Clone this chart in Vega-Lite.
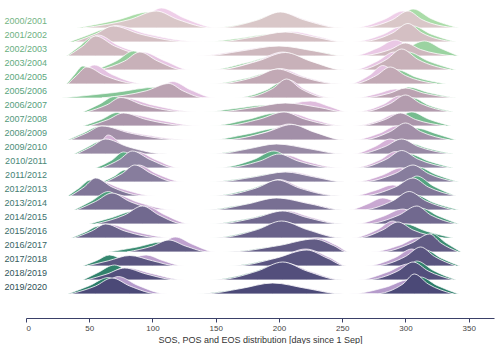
{
"$schema": "https://vega.github.io/schema/vega-lite/v6.json",
"padding": {"left": 4, "top": 6, "right": 4, "bottom": 0},
"data": {"values": [
{"y":2000,"k":"m","x":45,"d":0},{"y":2000,"k":"m","x":82,"d":8.5},{"y":2000,"k":"m","x":103,"d":17},{"y":2000,"k":"m","x":120,"d":8.5},{"y":2000,"k":"m","x":148,"d":0},
{"y":2000,"k":"m","x":150,"d":0},{"y":2000,"k":"m","x":183,"d":8},{"y":2000,"k":"m","x":201,"d":16},{"y":2000,"k":"m","x":220,"d":8},{"y":2000,"k":"m","x":250,"d":0},
{"y":2000,"k":"m","x":262,"d":0},{"y":2000,"k":"m","x":290,"d":8.5},{"y":2000,"k":"m","x":302,"d":17},{"y":2000,"k":"m","x":313,"d":8.5},{"y":2000,"k":"m","x":340,"d":0},
{"y":2000,"k":"g","x":40,"d":0},{"y":2000,"k":"g","x":72,"d":8},{"y":2000,"k":"g","x":97,"d":16},{"y":2000,"k":"g","x":113,"d":8},{"y":2000,"k":"g","x":140,"d":0},
{"y":2000,"k":"g","x":145,"d":0},{"y":2000,"k":"g","x":180,"d":7},{"y":2000,"k":"g","x":198,"d":14},{"y":2000,"k":"g","x":216,"d":7},{"y":2000,"k":"g","x":245,"d":0},
{"y":2000,"k":"g","x":268,"d":0},{"y":2000,"k":"g","x":295,"d":9.5},{"y":2000,"k":"g","x":306,"d":19},{"y":2000,"k":"g","x":320,"d":9.5},{"y":2000,"k":"g","x":342,"d":0},
{"y":2000,"k":"p","x":55,"d":0},{"y":2000,"k":"p","x":92,"d":10},{"y":2000,"k":"p","x":107,"d":20},{"y":2000,"k":"p","x":125,"d":10},{"y":2000,"k":"p","x":152,"d":0},
{"y":2000,"k":"p","x":155,"d":0},{"y":2000,"k":"p","x":186,"d":7.5},{"y":2000,"k":"p","x":203,"d":15},{"y":2000,"k":"p","x":223,"d":7.5},{"y":2000,"k":"p","x":252,"d":0},
{"y":2000,"k":"p","x":258,"d":0},{"y":2000,"k":"p","x":283,"d":8.5},{"y":2000,"k":"p","x":298,"d":17},{"y":2000,"k":"p","x":308,"d":8.5},{"y":2000,"k":"p","x":332,"d":0},

{"y":2001,"k":"m","x":38,"d":0},{"y":2001,"k":"m","x":55,"d":8},{"y":2001,"k":"m","x":69,"d":16},{"y":2001,"k":"m","x":90,"d":8},{"y":2001,"k":"m","x":130,"d":0},
{"y":2001,"k":"m","x":150,"d":0},{"y":2001,"k":"m","x":180,"d":5},{"y":2001,"k":"m","x":205,"d":10},{"y":2001,"k":"m","x":228,"d":5},{"y":2001,"k":"m","x":252,"d":0},
{"y":2001,"k":"m","x":262,"d":0},{"y":2001,"k":"m","x":290,"d":9.2},{"y":2001,"k":"m","x":302,"d":18.5},{"y":2001,"k":"m","x":313,"d":9.2},{"y":2001,"k":"m","x":338,"d":0},
{"y":2001,"k":"g","x":34,"d":0},{"y":2001,"k":"g","x":48,"d":6.5},{"y":2001,"k":"g","x":64,"d":13},{"y":2001,"k":"g","x":80,"d":6.5},{"y":2001,"k":"g","x":110,"d":0},
{"y":2001,"k":"g","x":140,"d":0},{"y":2001,"k":"g","x":170,"d":4},{"y":2001,"k":"g","x":195,"d":8},{"y":2001,"k":"g","x":215,"d":4},{"y":2001,"k":"g","x":245,"d":0},
{"y":2001,"k":"g","x":270,"d":0},{"y":2001,"k":"g","x":297,"d":8},{"y":2001,"k":"g","x":306,"d":16},{"y":2001,"k":"g","x":320,"d":8},{"y":2001,"k":"g","x":340,"d":0},
{"y":2001,"k":"p","x":45,"d":0},{"y":2001,"k":"p","x":60,"d":8.2},{"y":2001,"k":"p","x":71,"d":16.5},{"y":2001,"k":"p","x":95,"d":8.2},{"y":2001,"k":"p","x":140,"d":0},
{"y":2001,"k":"p","x":160,"d":0},{"y":2001,"k":"p","x":190,"d":5.2},{"y":2001,"k":"p","x":210,"d":10.5},{"y":2001,"k":"p","x":232,"d":5.2},{"y":2001,"k":"p","x":252,"d":0},
{"y":2001,"k":"p","x":258,"d":0},{"y":2001,"k":"p","x":282,"d":7.5},{"y":2001,"k":"p","x":296,"d":15},{"y":2001,"k":"p","x":306,"d":7.5},{"y":2001,"k":"p","x":328,"d":0},

{"y":2002,"k":"m","x":33,"d":0},{"y":2002,"k":"m","x":45,"d":10},{"y":2002,"k":"m","x":55,"d":20},{"y":2002,"k":"m","x":70,"d":10},{"y":2002,"k":"m","x":100,"d":0},
{"y":2002,"k":"m","x":140,"d":0},{"y":2002,"k":"m","x":170,"d":5},{"y":2002,"k":"m","x":200,"d":10},{"y":2002,"k":"m","x":228,"d":5},{"y":2002,"k":"m","x":252,"d":0},
{"y":2002,"k":"m","x":262,"d":0},{"y":2002,"k":"m","x":288,"d":6.5},{"y":2002,"k":"m","x":300,"d":13},{"y":2002,"k":"m","x":312,"d":6.5},{"y":2002,"k":"m","x":338,"d":0},
{"y":2002,"k":"g","x":32,"d":0},{"y":2002,"k":"g","x":42,"d":9.5},{"y":2002,"k":"g","x":53,"d":19},{"y":2002,"k":"g","x":66,"d":9.5},{"y":2002,"k":"g","x":92,"d":0},
{"y":2002,"k":"g","x":150,"d":0},{"y":2002,"k":"g","x":185,"d":3.5},{"y":2002,"k":"g","x":210,"d":7},{"y":2002,"k":"g","x":235,"d":3.5},{"y":2002,"k":"g","x":252,"d":0},
{"y":2002,"k":"g","x":270,"d":0},{"y":2002,"k":"g","x":300,"d":7.5},{"y":2002,"k":"g","x":315,"d":15},{"y":2002,"k":"g","x":328,"d":7.5},{"y":2002,"k":"g","x":342,"d":0},
{"y":2002,"k":"p","x":35,"d":0},{"y":2002,"k":"p","x":47,"d":10.5},{"y":2002,"k":"p","x":57,"d":21},{"y":2002,"k":"p","x":73,"d":10.5},{"y":2002,"k":"p","x":110,"d":0},
{"y":2002,"k":"p","x":135,"d":0},{"y":2002,"k":"p","x":165,"d":4.8},{"y":2002,"k":"p","x":195,"d":9.5},{"y":2002,"k":"p","x":222,"d":4.8},{"y":2002,"k":"p","x":250,"d":0},
{"y":2002,"k":"p","x":258,"d":0},{"y":2002,"k":"p","x":278,"d":8},{"y":2002,"k":"p","x":292,"d":16},{"y":2002,"k":"p","x":305,"d":8},{"y":2002,"k":"p","x":330,"d":0},

{"y":2003,"k":"m","x":58,"d":0},{"y":2003,"k":"m","x":78,"d":9},{"y":2003,"k":"m","x":90,"d":18},{"y":2003,"k":"m","x":104,"d":9},{"y":2003,"k":"m","x":125,"d":0},
{"y":2003,"k":"m","x":150,"d":0},{"y":2003,"k":"m","x":183,"d":8.8},{"y":2003,"k":"m","x":205,"d":17.5},{"y":2003,"k":"m","x":225,"d":8.8},{"y":2003,"k":"m","x":252,"d":0},
{"y":2003,"k":"m","x":262,"d":0},{"y":2003,"k":"m","x":285,"d":10.5},{"y":2003,"k":"m","x":297,"d":21},{"y":2003,"k":"m","x":310,"d":10.5},{"y":2003,"k":"m","x":336,"d":0},
{"y":2003,"k":"g","x":55,"d":0},{"y":2003,"k":"g","x":72,"d":9.5},{"y":2003,"k":"g","x":85,"d":19},{"y":2003,"k":"g","x":98,"d":9.5},{"y":2003,"k":"g","x":118,"d":0},
{"y":2003,"k":"g","x":145,"d":0},{"y":2003,"k":"g","x":175,"d":7.5},{"y":2003,"k":"g","x":200,"d":15},{"y":2003,"k":"g","x":220,"d":7.5},{"y":2003,"k":"g","x":248,"d":0},
{"y":2003,"k":"g","x":268,"d":0},{"y":2003,"k":"g","x":292,"d":9},{"y":2003,"k":"g","x":302,"d":18},{"y":2003,"k":"g","x":318,"d":9},{"y":2003,"k":"g","x":340,"d":0},
{"y":2003,"k":"p","x":60,"d":0},{"y":2003,"k":"p","x":80,"d":9},{"y":2003,"k":"p","x":92,"d":18},{"y":2003,"k":"p","x":110,"d":9},{"y":2003,"k":"p","x":130,"d":0},
{"y":2003,"k":"p","x":150,"d":0},{"y":2003,"k":"p","x":182,"d":9},{"y":2003,"k":"p","x":203,"d":18},{"y":2003,"k":"p","x":222,"d":9},{"y":2003,"k":"p","x":250,"d":0},
{"y":2003,"k":"p","x":258,"d":0},{"y":2003,"k":"p","x":278,"d":9},{"y":2003,"k":"p","x":291,"d":18},{"y":2003,"k":"p","x":303,"d":9},{"y":2003,"k":"p","x":326,"d":0},

{"y":2004,"k":"m","x":33,"d":0},{"y":2004,"k":"m","x":40,"d":8.5},{"y":2004,"k":"m","x":48,"d":17},{"y":2004,"k":"m","x":62,"d":8.5},{"y":2004,"k":"m","x":90,"d":0},
{"y":2004,"k":"m","x":150,"d":0},{"y":2004,"k":"m","x":182,"d":7.5},{"y":2004,"k":"m","x":199,"d":15},{"y":2004,"k":"m","x":217,"d":7.5},{"y":2004,"k":"m","x":248,"d":0},
{"y":2004,"k":"m","x":258,"d":0},{"y":2004,"k":"m","x":277,"d":8.5},{"y":2004,"k":"m","x":288,"d":17},{"y":2004,"k":"m","x":300,"d":8.5},{"y":2004,"k":"m","x":325,"d":0},
{"y":2004,"k":"g","x":32,"d":0},{"y":2004,"k":"g","x":38,"d":9},{"y":2004,"k":"g","x":45,"d":18},{"y":2004,"k":"g","x":57,"d":9},{"y":2004,"k":"g","x":82,"d":0},
{"y":2004,"k":"g","x":145,"d":0},{"y":2004,"k":"g","x":175,"d":6},{"y":2004,"k":"g","x":195,"d":12},{"y":2004,"k":"g","x":212,"d":6},{"y":2004,"k":"g","x":240,"d":0},
{"y":2004,"k":"g","x":265,"d":0},{"y":2004,"k":"g","x":285,"d":7},{"y":2004,"k":"g","x":294,"d":14},{"y":2004,"k":"g","x":308,"d":7},{"y":2004,"k":"g","x":332,"d":0},
{"y":2004,"k":"p","x":34,"d":0},{"y":2004,"k":"p","x":43,"d":9.5},{"y":2004,"k":"p","x":54,"d":19},{"y":2004,"k":"p","x":68,"d":9.5},{"y":2004,"k":"p","x":95,"d":0},
{"y":2004,"k":"p","x":152,"d":0},{"y":2004,"k":"p","x":184,"d":7.8},{"y":2004,"k":"p","x":201,"d":15.5},{"y":2004,"k":"p","x":219,"d":7.8},{"y":2004,"k":"p","x":250,"d":0},
{"y":2004,"k":"p","x":255,"d":0},{"y":2004,"k":"p","x":272,"d":9.2},{"y":2004,"k":"p","x":282,"d":18.5},{"y":2004,"k":"p","x":294,"d":9.2},{"y":2004,"k":"p","x":318,"d":0},

{"y":2005,"k":"m","x":60,"d":0},{"y":2005,"k":"m","x":95,"d":7.2},{"y":2005,"k":"m","x":113,"d":14.5},{"y":2005,"k":"m","x":124,"d":7.2},{"y":2005,"k":"m","x":142,"d":0},
{"y":2005,"k":"m","x":170,"d":0},{"y":2005,"k":"m","x":195,"d":9.5},{"y":2005,"k":"m","x":206,"d":19},{"y":2005,"k":"m","x":217,"d":9.5},{"y":2005,"k":"m","x":240,"d":0},
{"y":2005,"k":"m","x":265,"d":0},{"y":2005,"k":"m","x":288,"d":5},{"y":2005,"k":"m","x":300,"d":10},{"y":2005,"k":"m","x":314,"d":5},{"y":2005,"k":"m","x":338,"d":0},
{"y":2005,"k":"g","x":28,"d":0},{"y":2005,"k":"g","x":70,"d":5.5},{"y":2005,"k":"g","x":105,"d":11},{"y":2005,"k":"g","x":118,"d":5.5},{"y":2005,"k":"g","x":135,"d":0},
{"y":2005,"k":"g","x":165,"d":0},{"y":2005,"k":"g","x":190,"d":8},{"y":2005,"k":"g","x":203,"d":16},{"y":2005,"k":"g","x":214,"d":8},{"y":2005,"k":"g","x":235,"d":0},
{"y":2005,"k":"g","x":272,"d":0},{"y":2005,"k":"g","x":295,"d":5.5},{"y":2005,"k":"g","x":302,"d":11},{"y":2005,"k":"g","x":318,"d":5.5},{"y":2005,"k":"g","x":340,"d":0},
{"y":2005,"k":"p","x":70,"d":0},{"y":2005,"k":"p","x":103,"d":8.2},{"y":2005,"k":"p","x":116,"d":16.5},{"y":2005,"k":"p","x":130,"d":8.2},{"y":2005,"k":"p","x":150,"d":0},
{"y":2005,"k":"p","x":172,"d":0},{"y":2005,"k":"p","x":197,"d":9},{"y":2005,"k":"p","x":208,"d":18},{"y":2005,"k":"p","x":220,"d":9},{"y":2005,"k":"p","x":244,"d":0},
{"y":2005,"k":"p","x":260,"d":0},{"y":2005,"k":"p","x":278,"d":4.5},{"y":2005,"k":"p","x":292,"d":9},{"y":2005,"k":"p","x":305,"d":4.5},{"y":2005,"k":"p","x":330,"d":0},

{"y":2006,"k":"m","x":48,"d":0},{"y":2006,"k":"m","x":64,"d":7.2},{"y":2006,"k":"m","x":75,"d":14.5},{"y":2006,"k":"m","x":92,"d":7.2},{"y":2006,"k":"m","x":130,"d":0},
{"y":2006,"k":"m","x":150,"d":0},{"y":2006,"k":"m","x":180,"d":4.5},{"y":2006,"k":"m","x":205,"d":9},{"y":2006,"k":"m","x":232,"d":4.5},{"y":2006,"k":"m","x":252,"d":0},
{"y":2006,"k":"m","x":265,"d":0},{"y":2006,"k":"m","x":288,"d":8.5},{"y":2006,"k":"m","x":300,"d":17},{"y":2006,"k":"m","x":312,"d":8.5},{"y":2006,"k":"m","x":335,"d":0},
{"y":2006,"k":"g","x":45,"d":0},{"y":2006,"k":"g","x":58,"d":7.8},{"y":2006,"k":"g","x":70,"d":15.5},{"y":2006,"k":"g","x":82,"d":7.8},{"y":2006,"k":"g","x":110,"d":0},
{"y":2006,"k":"g","x":140,"d":0},{"y":2006,"k":"g","x":165,"d":3.5},{"y":2006,"k":"g","x":190,"d":7},{"y":2006,"k":"g","x":215,"d":3.5},{"y":2006,"k":"g","x":245,"d":0},
{"y":2006,"k":"g","x":272,"d":0},{"y":2006,"k":"g","x":297,"d":7},{"y":2006,"k":"g","x":306,"d":14},{"y":2006,"k":"g","x":318,"d":7},{"y":2006,"k":"g","x":338,"d":0},
{"y":2006,"k":"p","x":50,"d":0},{"y":2006,"k":"p","x":67,"d":7},{"y":2006,"k":"p","x":78,"d":14},{"y":2006,"k":"p","x":100,"d":7},{"y":2006,"k":"p","x":135,"d":0},
{"y":2006,"k":"p","x":170,"d":0},{"y":2006,"k":"p","x":200,"d":5.5},{"y":2006,"k":"p","x":225,"d":11},{"y":2006,"k":"p","x":240,"d":5.5},{"y":2006,"k":"p","x":255,"d":0},
{"y":2006,"k":"p","x":260,"d":0},{"y":2006,"k":"p","x":283,"d":8},{"y":2006,"k":"p","x":295,"d":16},{"y":2006,"k":"p","x":307,"d":8},{"y":2006,"k":"p","x":330,"d":0},

{"y":2007,"k":"m","x":50,"d":0},{"y":2007,"k":"m","x":65,"d":6.5},{"y":2007,"k":"m","x":77,"d":13},{"y":2007,"k":"m","x":95,"d":6.5},{"y":2007,"k":"m","x":132,"d":0},
{"y":2007,"k":"m","x":155,"d":0},{"y":2007,"k":"m","x":185,"d":7},{"y":2007,"k":"m","x":204,"d":14},{"y":2007,"k":"m","x":220,"d":7},{"y":2007,"k":"m","x":250,"d":0},
{"y":2007,"k":"m","x":262,"d":0},{"y":2007,"k":"m","x":284,"d":6.5},{"y":2007,"k":"m","x":296,"d":13},{"y":2007,"k":"m","x":308,"d":6.5},{"y":2007,"k":"m","x":332,"d":0},
{"y":2007,"k":"g","x":45,"d":0},{"y":2007,"k":"g","x":60,"d":6.8},{"y":2007,"k":"g","x":72,"d":13.5},{"y":2007,"k":"g","x":83,"d":6.8},{"y":2007,"k":"g","x":108,"d":0},
{"y":2007,"k":"g","x":145,"d":0},{"y":2007,"k":"g","x":175,"d":6.5},{"y":2007,"k":"g","x":198,"d":13},{"y":2007,"k":"g","x":214,"d":6.5},{"y":2007,"k":"g","x":245,"d":0},
{"y":2007,"k":"g","x":270,"d":0},{"y":2007,"k":"g","x":292,"d":7},{"y":2007,"k":"g","x":305,"d":14},{"y":2007,"k":"g","x":318,"d":7},{"y":2007,"k":"g","x":336,"d":0},
{"y":2007,"k":"p","x":55,"d":0},{"y":2007,"k":"p","x":70,"d":6},{"y":2007,"k":"p","x":80,"d":12},{"y":2007,"k":"p","x":105,"d":6},{"y":2007,"k":"p","x":138,"d":0},
{"y":2007,"k":"p","x":160,"d":0},{"y":2007,"k":"p","x":192,"d":6.5},{"y":2007,"k":"p","x":208,"d":13},{"y":2007,"k":"p","x":227,"d":6.5},{"y":2007,"k":"p","x":252,"d":0},
{"y":2007,"k":"p","x":258,"d":0},{"y":2007,"k":"p","x":280,"d":6},{"y":2007,"k":"p","x":292,"d":12},{"y":2007,"k":"p","x":303,"d":6},{"y":2007,"k":"p","x":326,"d":0},

{"y":2008,"k":"m","x":35,"d":0},{"y":2008,"k":"m","x":48,"d":7},{"y":2008,"k":"m","x":60,"d":14},{"y":2008,"k":"m","x":82,"d":7},{"y":2008,"k":"m","x":125,"d":0},
{"y":2008,"k":"m","x":155,"d":0},{"y":2008,"k":"m","x":190,"d":7.8},{"y":2008,"k":"m","x":210,"d":15.5},{"y":2008,"k":"m","x":228,"d":7.8},{"y":2008,"k":"m","x":252,"d":0},
{"y":2008,"k":"m","x":265,"d":0},{"y":2008,"k":"m","x":288,"d":8.5},{"y":2008,"k":"m","x":300,"d":17},{"y":2008,"k":"m","x":312,"d":8.5},{"y":2008,"k":"m","x":335,"d":0},
{"y":2008,"k":"g","x":33,"d":0},{"y":2008,"k":"g","x":45,"d":6.8},{"y":2008,"k":"g","x":58,"d":13.5},{"y":2008,"k":"g","x":75,"d":6.8},{"y":2008,"k":"g","x":110,"d":0},
{"y":2008,"k":"g","x":145,"d":0},{"y":2008,"k":"g","x":175,"d":6},{"y":2008,"k":"g","x":200,"d":12},{"y":2008,"k":"g","x":220,"d":6},{"y":2008,"k":"g","x":248,"d":0},
{"y":2008,"k":"g","x":272,"d":0},{"y":2008,"k":"g","x":298,"d":6},{"y":2008,"k":"g","x":308,"d":12},{"y":2008,"k":"g","x":325,"d":6},{"y":2008,"k":"g","x":340,"d":0},
{"y":2008,"k":"p","x":40,"d":0},{"y":2008,"k":"p","x":52,"d":6.5},{"y":2008,"k":"p","x":62,"d":13},{"y":2008,"k":"p","x":88,"d":6.5},{"y":2008,"k":"p","x":132,"d":0},
{"y":2008,"k":"p","x":158,"d":0},{"y":2008,"k":"p","x":190,"d":8},{"y":2008,"k":"p","x":208,"d":16},{"y":2008,"k":"p","x":226,"d":8},{"y":2008,"k":"p","x":252,"d":0},
{"y":2008,"k":"p","x":258,"d":0},{"y":2008,"k":"p","x":280,"d":7},{"y":2008,"k":"p","x":293,"d":14},{"y":2008,"k":"p","x":305,"d":7},{"y":2008,"k":"p","x":328,"d":0},

{"y":2009,"k":"m","x":40,"d":0},{"y":2009,"k":"m","x":52,"d":7.5},{"y":2009,"k":"m","x":63,"d":15},{"y":2009,"k":"m","x":80,"d":7.5},{"y":2009,"k":"m","x":112,"d":0},
{"y":2009,"k":"m","x":150,"d":0},{"y":2009,"k":"m","x":175,"d":5},{"y":2009,"k":"m","x":198,"d":10},{"y":2009,"k":"m","x":225,"d":5},{"y":2009,"k":"m","x":250,"d":0},
{"y":2009,"k":"m","x":262,"d":0},{"y":2009,"k":"m","x":284,"d":7.5},{"y":2009,"k":"m","x":297,"d":15},{"y":2009,"k":"m","x":310,"d":7.5},{"y":2009,"k":"m","x":335,"d":0},
{"y":2009,"k":"g","x":38,"d":0},{"y":2009,"k":"g","x":48,"d":6.5},{"y":2009,"k":"g","x":60,"d":13},{"y":2009,"k":"g","x":74,"d":6.5},{"y":2009,"k":"g","x":100,"d":0},
{"y":2009,"k":"g","x":145,"d":0},{"y":2009,"k":"g","x":172,"d":4.5},{"y":2009,"k":"g","x":195,"d":9},{"y":2009,"k":"g","x":220,"d":4.5},{"y":2009,"k":"g","x":248,"d":0},
{"y":2009,"k":"g","x":270,"d":0},{"y":2009,"k":"g","x":293,"d":5.5},{"y":2009,"k":"g","x":302,"d":11},{"y":2009,"k":"g","x":318,"d":5.5},{"y":2009,"k":"g","x":338,"d":0},
{"y":2009,"k":"p","x":48,"d":0},{"y":2009,"k":"p","x":58,"d":9.5},{"y":2009,"k":"p","x":65,"d":19},{"y":2009,"k":"p","x":76,"d":9.5},{"y":2009,"k":"p","x":108,"d":0},
{"y":2009,"k":"p","x":155,"d":0},{"y":2009,"k":"p","x":180,"d":4.8},{"y":2009,"k":"p","x":202,"d":9.5},{"y":2009,"k":"p","x":228,"d":4.8},{"y":2009,"k":"p","x":252,"d":0},
{"y":2009,"k":"p","x":258,"d":0},{"y":2009,"k":"p","x":276,"d":7.5},{"y":2009,"k":"p","x":288,"d":15},{"y":2009,"k":"p","x":300,"d":7.5},{"y":2009,"k":"p","x":325,"d":0},

{"y":2010,"k":"m","x":60,"d":0},{"y":2010,"k":"m","x":74,"d":8.5},{"y":2010,"k":"m","x":84,"d":17},{"y":2010,"k":"m","x":98,"d":8.5},{"y":2010,"k":"m","x":118,"d":0},
{"y":2010,"k":"m","x":155,"d":0},{"y":2010,"k":"m","x":185,"d":7},{"y":2010,"k":"m","x":200,"d":14},{"y":2010,"k":"m","x":215,"d":7},{"y":2010,"k":"m","x":245,"d":0},
{"y":2010,"k":"m","x":262,"d":0},{"y":2010,"k":"m","x":285,"d":8.8},{"y":2010,"k":"m","x":297,"d":17.5},{"y":2010,"k":"m","x":310,"d":8.8},{"y":2010,"k":"m","x":335,"d":0},
{"y":2010,"k":"g","x":55,"d":0},{"y":2010,"k":"g","x":68,"d":8},{"y":2010,"k":"g","x":77,"d":16},{"y":2010,"k":"g","x":90,"d":8},{"y":2010,"k":"g","x":112,"d":0},
{"y":2010,"k":"g","x":150,"d":0},{"y":2010,"k":"g","x":180,"d":8.5},{"y":2010,"k":"g","x":196,"d":17},{"y":2010,"k":"g","x":210,"d":8.5},{"y":2010,"k":"g","x":238,"d":0},
{"y":2010,"k":"g","x":270,"d":0},{"y":2010,"k":"g","x":293,"d":7},{"y":2010,"k":"g","x":303,"d":14},{"y":2010,"k":"g","x":318,"d":7},{"y":2010,"k":"g","x":338,"d":0},
{"y":2010,"k":"p","x":62,"d":0},{"y":2010,"k":"p","x":78,"d":8},{"y":2010,"k":"p","x":88,"d":16},{"y":2010,"k":"p","x":103,"d":8},{"y":2010,"k":"p","x":122,"d":0},
{"y":2010,"k":"p","x":160,"d":0},{"y":2010,"k":"p","x":190,"d":6.5},{"y":2010,"k":"p","x":205,"d":13},{"y":2010,"k":"p","x":222,"d":6.5},{"y":2010,"k":"p","x":250,"d":0},
{"y":2010,"k":"p","x":258,"d":0},{"y":2010,"k":"p","x":280,"d":8.2},{"y":2010,"k":"p","x":292,"d":16.5},{"y":2010,"k":"p","x":303,"d":8.2},{"y":2010,"k":"p","x":328,"d":0},

{"y":2011,"k":"m","x":63,"d":0},{"y":2011,"k":"m","x":76,"d":8.5},{"y":2011,"k":"m","x":86,"d":17},{"y":2011,"k":"m","x":99,"d":8.5},{"y":2011,"k":"m","x":118,"d":0},
{"y":2011,"k":"m","x":150,"d":0},{"y":2011,"k":"m","x":180,"d":5},{"y":2011,"k":"m","x":205,"d":10},{"y":2011,"k":"m","x":228,"d":5},{"y":2011,"k":"m","x":252,"d":0},
{"y":2011,"k":"m","x":265,"d":0},{"y":2011,"k":"m","x":292,"d":8.5},{"y":2011,"k":"m","x":306,"d":17},{"y":2011,"k":"m","x":318,"d":8.5},{"y":2011,"k":"m","x":340,"d":0},
{"y":2011,"k":"g","x":60,"d":0},{"y":2011,"k":"g","x":70,"d":6},{"y":2011,"k":"g","x":78,"d":12},{"y":2011,"k":"g","x":90,"d":6},{"y":2011,"k":"g","x":108,"d":0},
{"y":2011,"k":"g","x":145,"d":0},{"y":2011,"k":"g","x":175,"d":4.5},{"y":2011,"k":"g","x":200,"d":9},{"y":2011,"k":"g","x":222,"d":4.5},{"y":2011,"k":"g","x":248,"d":0},
{"y":2011,"k":"g","x":272,"d":0},{"y":2011,"k":"g","x":298,"d":7.5},{"y":2011,"k":"g","x":310,"d":15},{"y":2011,"k":"g","x":324,"d":7.5},{"y":2011,"k":"g","x":342,"d":0},
{"y":2011,"k":"p","x":65,"d":0},{"y":2011,"k":"p","x":80,"d":8.5},{"y":2011,"k":"p","x":89,"d":17},{"y":2011,"k":"p","x":103,"d":8.5},{"y":2011,"k":"p","x":125,"d":0},
{"y":2011,"k":"p","x":155,"d":0},{"y":2011,"k":"p","x":185,"d":5.2},{"y":2011,"k":"p","x":207,"d":10.5},{"y":2011,"k":"p","x":230,"d":5.2},{"y":2011,"k":"p","x":252,"d":0},
{"y":2011,"k":"p","x":260,"d":0},{"y":2011,"k":"p","x":282,"d":7},{"y":2011,"k":"p","x":296,"d":14},{"y":2011,"k":"p","x":308,"d":7},{"y":2011,"k":"p","x":330,"d":0},

{"y":2012,"k":"m","x":35,"d":0},{"y":2012,"k":"m","x":46,"d":9},{"y":2012,"k":"m","x":55,"d":18},{"y":2012,"k":"m","x":68,"d":9},{"y":2012,"k":"m","x":95,"d":0},
{"y":2012,"k":"m","x":150,"d":0},{"y":2012,"k":"m","x":182,"d":8},{"y":2012,"k":"m","x":199,"d":16},{"y":2012,"k":"m","x":216,"d":8},{"y":2012,"k":"m","x":248,"d":0},
{"y":2012,"k":"m","x":265,"d":0},{"y":2012,"k":"m","x":292,"d":9},{"y":2012,"k":"m","x":306,"d":18},{"y":2012,"k":"m","x":318,"d":9},{"y":2012,"k":"m","x":340,"d":0},
{"y":2012,"k":"g","x":33,"d":0},{"y":2012,"k":"g","x":42,"d":8},{"y":2012,"k":"g","x":51,"d":16},{"y":2012,"k":"g","x":62,"d":8},{"y":2012,"k":"g","x":88,"d":0},
{"y":2012,"k":"g","x":145,"d":0},{"y":2012,"k":"g","x":176,"d":6.5},{"y":2012,"k":"g","x":195,"d":13},{"y":2012,"k":"g","x":212,"d":6.5},{"y":2012,"k":"g","x":242,"d":0},
{"y":2012,"k":"g","x":272,"d":0},{"y":2012,"k":"g","x":298,"d":10},{"y":2012,"k":"g","x":309,"d":20},{"y":2012,"k":"g","x":322,"d":10},{"y":2012,"k":"g","x":340,"d":0},
{"y":2012,"k":"p","x":38,"d":0},{"y":2012,"k":"p","x":50,"d":7.5},{"y":2012,"k":"p","x":58,"d":15},{"y":2012,"k":"p","x":75,"d":7.5},{"y":2012,"k":"p","x":102,"d":0},
{"y":2012,"k":"p","x":152,"d":0},{"y":2012,"k":"p","x":184,"d":8.2},{"y":2012,"k":"p","x":200,"d":16.5},{"y":2012,"k":"p","x":218,"d":8.2},{"y":2012,"k":"p","x":250,"d":0},
{"y":2012,"k":"p","x":258,"d":0},{"y":2012,"k":"p","x":276,"d":5.5},{"y":2012,"k":"p","x":290,"d":11},{"y":2012,"k":"p","x":304,"d":5.5},{"y":2012,"k":"p","x":330,"d":0},

{"y":2013,"k":"m","x":40,"d":0},{"y":2013,"k":"m","x":55,"d":8.5},{"y":2013,"k":"m","x":68,"d":17},{"y":2013,"k":"m","x":82,"d":8.5},{"y":2013,"k":"m","x":110,"d":0},
{"y":2013,"k":"m","x":145,"d":0},{"y":2013,"k":"m","x":175,"d":6},{"y":2013,"k":"m","x":198,"d":12},{"y":2013,"k":"m","x":225,"d":6},{"y":2013,"k":"m","x":250,"d":0},
{"y":2013,"k":"m","x":265,"d":0},{"y":2013,"k":"m","x":290,"d":9.2},{"y":2013,"k":"m","x":303,"d":18.5},{"y":2013,"k":"m","x":316,"d":9.2},{"y":2013,"k":"m","x":338,"d":0},
{"y":2013,"k":"g","x":38,"d":0},{"y":2013,"k":"g","x":52,"d":9.2},{"y":2013,"k":"g","x":65,"d":18.5},{"y":2013,"k":"g","x":77,"d":9.2},{"y":2013,"k":"g","x":100,"d":0},
{"y":2013,"k":"g","x":140,"d":0},{"y":2013,"k":"g","x":170,"d":5},{"y":2013,"k":"g","x":195,"d":10},{"y":2013,"k":"g","x":220,"d":5},{"y":2013,"k":"g","x":248,"d":0},
{"y":2013,"k":"g","x":272,"d":0},{"y":2013,"k":"g","x":298,"d":7.5},{"y":2013,"k":"g","x":308,"d":15},{"y":2013,"k":"g","x":322,"d":7.5},{"y":2013,"k":"g","x":342,"d":0},
{"y":2013,"k":"p","x":45,"d":0},{"y":2013,"k":"p","x":60,"d":8},{"y":2013,"k":"p","x":70,"d":16},{"y":2013,"k":"p","x":88,"d":8},{"y":2013,"k":"p","x":118,"d":0},
{"y":2013,"k":"p","x":150,"d":0},{"y":2013,"k":"p","x":180,"d":5.8},{"y":2013,"k":"p","x":200,"d":11.5},{"y":2013,"k":"p","x":228,"d":5.8},{"y":2013,"k":"p","x":252,"d":0},
{"y":2013,"k":"p","x":255,"d":0},{"y":2013,"k":"p","x":270,"d":6},{"y":2013,"k":"p","x":282,"d":12},{"y":2013,"k":"p","x":296,"d":6},{"y":2013,"k":"p","x":322,"d":0},

{"y":2014,"k":"m","x":55,"d":0},{"y":2014,"k":"m","x":78,"d":9},{"y":2014,"k":"m","x":92,"d":18},{"y":2014,"k":"m","x":105,"d":9},{"y":2014,"k":"m","x":125,"d":0},
{"y":2014,"k":"m","x":150,"d":0},{"y":2014,"k":"m","x":182,"d":6.5},{"y":2014,"k":"m","x":203,"d":13},{"y":2014,"k":"m","x":222,"d":6.5},{"y":2014,"k":"m","x":250,"d":0},
{"y":2014,"k":"m","x":268,"d":0},{"y":2014,"k":"m","x":295,"d":9},{"y":2014,"k":"m","x":309,"d":18},{"y":2014,"k":"m","x":320,"d":9},{"y":2014,"k":"m","x":340,"d":0},
{"y":2014,"k":"g","x":50,"d":0},{"y":2014,"k":"g","x":68,"d":6.5},{"y":2014,"k":"g","x":86,"d":13},{"y":2014,"k":"g","x":98,"d":6.5},{"y":2014,"k":"g","x":118,"d":0},
{"y":2014,"k":"g","x":145,"d":0},{"y":2014,"k":"g","x":176,"d":5.5},{"y":2014,"k":"g","x":198,"d":11},{"y":2014,"k":"g","x":218,"d":5.5},{"y":2014,"k":"g","x":246,"d":0},
{"y":2014,"k":"g","x":274,"d":0},{"y":2014,"k":"g","x":300,"d":8},{"y":2014,"k":"g","x":312,"d":16},{"y":2014,"k":"g","x":326,"d":8},{"y":2014,"k":"g","x":342,"d":0},
{"y":2014,"k":"p","x":60,"d":0},{"y":2014,"k":"p","x":82,"d":9},{"y":2014,"k":"p","x":95,"d":18},{"y":2014,"k":"p","x":110,"d":9},{"y":2014,"k":"p","x":130,"d":0},
{"y":2014,"k":"p","x":152,"d":0},{"y":2014,"k":"p","x":185,"d":6.8},{"y":2014,"k":"p","x":205,"d":13.5},{"y":2014,"k":"p","x":225,"d":6.8},{"y":2014,"k":"p","x":252,"d":0},
{"y":2014,"k":"p","x":260,"d":0},{"y":2014,"k":"p","x":282,"d":7.5},{"y":2014,"k":"p","x":298,"d":15},{"y":2014,"k":"p","x":310,"d":7.5},{"y":2014,"k":"p","x":332,"d":0},

{"y":2015,"k":"m","x":38,"d":0},{"y":2015,"k":"m","x":52,"d":7},{"y":2015,"k":"m","x":63,"d":14},{"y":2015,"k":"m","x":78,"d":7},{"y":2015,"k":"m","x":108,"d":0},
{"y":2015,"k":"m","x":150,"d":0},{"y":2015,"k":"m","x":183,"d":8.5},{"y":2015,"k":"m","x":202,"d":17},{"y":2015,"k":"m","x":222,"d":8.5},{"y":2015,"k":"m","x":250,"d":0},
{"y":2015,"k":"m","x":262,"d":0},{"y":2015,"k":"m","x":282,"d":8},{"y":2015,"k":"m","x":294,"d":16},{"y":2015,"k":"m","x":306,"d":8},{"y":2015,"k":"m","x":330,"d":0},
{"y":2015,"k":"g","x":36,"d":0},{"y":2015,"k":"g","x":47,"d":6},{"y":2015,"k":"g","x":58,"d":12},{"y":2015,"k":"g","x":70,"d":6},{"y":2015,"k":"g","x":95,"d":0},
{"y":2015,"k":"g","x":145,"d":0},{"y":2015,"k":"g","x":178,"d":7},{"y":2015,"k":"g","x":198,"d":14},{"y":2015,"k":"g","x":218,"d":7},{"y":2015,"k":"g","x":246,"d":0},
{"y":2015,"k":"g","x":268,"d":0},{"y":2015,"k":"g","x":290,"d":7},{"y":2015,"k":"g","x":300,"d":14},{"y":2015,"k":"g","x":316,"d":7},{"y":2015,"k":"g","x":338,"d":0},
{"y":2015,"k":"p","x":42,"d":0},{"y":2015,"k":"p","x":56,"d":6.8},{"y":2015,"k":"p","x":66,"d":13.5},{"y":2015,"k":"p","x":85,"d":6.8},{"y":2015,"k":"p","x":118,"d":0},
{"y":2015,"k":"p","x":152,"d":0},{"y":2015,"k":"p","x":185,"d":8},{"y":2015,"k":"p","x":204,"d":16},{"y":2015,"k":"p","x":224,"d":8},{"y":2015,"k":"p","x":252,"d":0},
{"y":2015,"k":"p","x":257,"d":0},{"y":2015,"k":"p","x":278,"d":8.5},{"y":2015,"k":"p","x":290,"d":17},{"y":2015,"k":"p","x":300,"d":8.5},{"y":2015,"k":"p","x":322,"d":0},

{"y":2016,"k":"m","x":80,"d":0},{"y":2016,"k":"m","x":100,"d":6},{"y":2016,"k":"m","x":113,"d":12},{"y":2016,"k":"m","x":126,"d":6},{"y":2016,"k":"m","x":145,"d":0},
{"y":2016,"k":"m","x":160,"d":0},{"y":2016,"k":"m","x":200,"d":6.5},{"y":2016,"k":"m","x":228,"d":13},{"y":2016,"k":"m","x":243,"d":6.5},{"y":2016,"k":"m","x":254,"d":0},
{"y":2016,"k":"m","x":280,"d":0},{"y":2016,"k":"m","x":305,"d":9},{"y":2016,"k":"m","x":319,"d":18},{"y":2016,"k":"m","x":328,"d":9},{"y":2016,"k":"m","x":342,"d":0},
{"y":2016,"k":"g","x":65,"d":0},{"y":2016,"k":"g","x":88,"d":5},{"y":2016,"k":"g","x":107,"d":10},{"y":2016,"k":"g","x":118,"d":5},{"y":2016,"k":"g","x":135,"d":0},
{"y":2016,"k":"g","x":155,"d":0},{"y":2016,"k":"g","x":195,"d":5.5},{"y":2016,"k":"g","x":222,"d":11},{"y":2016,"k":"g","x":238,"d":5.5},{"y":2016,"k":"g","x":252,"d":0},
{"y":2016,"k":"g","x":285,"d":0},{"y":2016,"k":"g","x":310,"d":9.2},{"y":2016,"k":"g","x":321,"d":18.5},{"y":2016,"k":"g","x":332,"d":9.2},{"y":2016,"k":"g","x":344,"d":0},
{"y":2016,"k":"p","x":85,"d":0},{"y":2016,"k":"p","x":106,"d":7.5},{"y":2016,"k":"p","x":118,"d":15},{"y":2016,"k":"p","x":132,"d":7.5},{"y":2016,"k":"p","x":150,"d":0},
{"y":2016,"k":"p","x":165,"d":0},{"y":2016,"k":"p","x":205,"d":7},{"y":2016,"k":"p","x":230,"d":14},{"y":2016,"k":"p","x":245,"d":7},{"y":2016,"k":"p","x":256,"d":0},
{"y":2016,"k":"p","x":272,"d":0},{"y":2016,"k":"p","x":296,"d":7},{"y":2016,"k":"p","x":310,"d":14},{"y":2016,"k":"p","x":320,"d":7},{"y":2016,"k":"p","x":336,"d":0},

{"y":2017,"k":"m","x":48,"d":0},{"y":2017,"k":"m","x":65,"d":5.2},{"y":2017,"k":"m","x":82,"d":10.5},{"y":2017,"k":"m","x":100,"d":5.2},{"y":2017,"k":"m","x":120,"d":0},
{"y":2017,"k":"m","x":165,"d":0},{"y":2017,"k":"m","x":198,"d":8},{"y":2017,"k":"m","x":222,"d":16},{"y":2017,"k":"m","x":238,"d":8},{"y":2017,"k":"m","x":253,"d":0},
{"y":2017,"k":"m","x":275,"d":0},{"y":2017,"k":"m","x":300,"d":9.5},{"y":2017,"k":"m","x":312,"d":19},{"y":2017,"k":"m","x":323,"d":9.5},{"y":2017,"k":"m","x":340,"d":0},
{"y":2017,"k":"g","x":45,"d":0},{"y":2017,"k":"g","x":56,"d":5.5},{"y":2017,"k":"g","x":66,"d":11},{"y":2017,"k":"g","x":78,"d":5.5},{"y":2017,"k":"g","x":100,"d":0},
{"y":2017,"k":"g","x":160,"d":0},{"y":2017,"k":"g","x":193,"d":6.5},{"y":2017,"k":"g","x":218,"d":13},{"y":2017,"k":"g","x":234,"d":6.5},{"y":2017,"k":"g","x":250,"d":0},
{"y":2017,"k":"g","x":282,"d":0},{"y":2017,"k":"g","x":305,"d":8},{"y":2017,"k":"g","x":316,"d":16},{"y":2017,"k":"g","x":328,"d":8},{"y":2017,"k":"g","x":343,"d":0},
{"y":2017,"k":"p","x":55,"d":0},{"y":2017,"k":"p","x":78,"d":5.5},{"y":2017,"k":"p","x":95,"d":11},{"y":2017,"k":"p","x":108,"d":5.5},{"y":2017,"k":"p","x":125,"d":0},
{"y":2017,"k":"p","x":168,"d":0},{"y":2017,"k":"p","x":200,"d":8.5},{"y":2017,"k":"p","x":221,"d":17},{"y":2017,"k":"p","x":240,"d":8.5},{"y":2017,"k":"p","x":254,"d":0},
{"y":2017,"k":"p","x":268,"d":0},{"y":2017,"k":"p","x":292,"d":8.5},{"y":2017,"k":"p","x":305,"d":17},{"y":2017,"k":"p","x":316,"d":8.5},{"y":2017,"k":"p","x":334,"d":0},

{"y":2018,"k":"m","x":48,"d":0},{"y":2018,"k":"m","x":64,"d":6},{"y":2018,"k":"m","x":78,"d":12},{"y":2018,"k":"m","x":95,"d":6},{"y":2018,"k":"m","x":120,"d":0},
{"y":2018,"k":"m","x":150,"d":0},{"y":2018,"k":"m","x":183,"d":9},{"y":2018,"k":"m","x":203,"d":18},{"y":2018,"k":"m","x":222,"d":9},{"y":2018,"k":"m","x":250,"d":0},
{"y":2018,"k":"m","x":268,"d":0},{"y":2018,"k":"m","x":294,"d":9},{"y":2018,"k":"m","x":306,"d":18},{"y":2018,"k":"m","x":318,"d":9},{"y":2018,"k":"m","x":338,"d":0},
{"y":2018,"k":"g","x":45,"d":0},{"y":2018,"k":"g","x":57,"d":7.5},{"y":2018,"k":"g","x":70,"d":15},{"y":2018,"k":"g","x":82,"d":7.5},{"y":2018,"k":"g","x":105,"d":0},
{"y":2018,"k":"g","x":145,"d":0},{"y":2018,"k":"g","x":178,"d":7.5},{"y":2018,"k":"g","x":198,"d":15},{"y":2018,"k":"g","x":218,"d":7.5},{"y":2018,"k":"g","x":246,"d":0},
{"y":2018,"k":"g","x":274,"d":0},{"y":2018,"k":"g","x":300,"d":9.5},{"y":2018,"k":"g","x":309,"d":19},{"y":2018,"k":"g","x":322,"d":9.5},{"y":2018,"k":"g","x":340,"d":0},
{"y":2018,"k":"p","x":52,"d":0},{"y":2018,"k":"p","x":66,"d":6.2},{"y":2018,"k":"p","x":78,"d":12.5},{"y":2018,"k":"p","x":100,"d":6.2},{"y":2018,"k":"p","x":125,"d":0},
{"y":2018,"k":"p","x":152,"d":0},{"y":2018,"k":"p","x":185,"d":8.5},{"y":2018,"k":"p","x":205,"d":17},{"y":2018,"k":"p","x":225,"d":8.5},{"y":2018,"k":"p","x":252,"d":0},
{"y":2018,"k":"p","x":262,"d":0},{"y":2018,"k":"p","x":286,"d":8},{"y":2018,"k":"p","x":302,"d":16},{"y":2018,"k":"p","x":312,"d":8},{"y":2018,"k":"p","x":330,"d":0},

{"y":2019,"k":"m","x":35,"d":0},{"y":2019,"k":"m","x":55,"d":8},{"y":2019,"k":"m","x":68,"d":16},{"y":2019,"k":"m","x":82,"d":8},{"y":2019,"k":"m","x":105,"d":0},
{"y":2019,"k":"m","x":140,"d":0},{"y":2019,"k":"m","x":170,"d":5.5},{"y":2019,"k":"m","x":195,"d":11},{"y":2019,"k":"m","x":222,"d":5.5},{"y":2019,"k":"m","x":250,"d":0},
{"y":2019,"k":"m","x":275,"d":0},{"y":2019,"k":"m","x":298,"d":10},{"y":2019,"k":"m","x":307,"d":20},{"y":2019,"k":"m","x":318,"d":10},{"y":2019,"k":"m","x":338,"d":0},
{"y":2019,"k":"g","x":33,"d":0},{"y":2019,"k":"g","x":50,"d":8.2},{"y":2019,"k":"g","x":65,"d":16.5},{"y":2019,"k":"g","x":76,"d":8.2},{"y":2019,"k":"g","x":98,"d":0},
{"y":2019,"k":"g","x":135,"d":0},{"y":2019,"k":"g","x":165,"d":4.5},{"y":2019,"k":"g","x":190,"d":9},{"y":2019,"k":"g","x":218,"d":4.5},{"y":2019,"k":"g","x":246,"d":0},
{"y":2019,"k":"g","x":280,"d":0},{"y":2019,"k":"g","x":303,"d":8.5},{"y":2019,"k":"g","x":312,"d":17},{"y":2019,"k":"g","x":325,"d":8.5},{"y":2019,"k":"g","x":342,"d":0},
{"y":2019,"k":"p","x":40,"d":0},{"y":2019,"k":"p","x":60,"d":8.8},{"y":2019,"k":"p","x":73,"d":17.5},{"y":2019,"k":"p","x":88,"d":8.8},{"y":2019,"k":"p","x":112,"d":0},
{"y":2019,"k":"p","x":145,"d":0},{"y":2019,"k":"p","x":175,"d":5.2},{"y":2019,"k":"p","x":198,"d":10.5},{"y":2019,"k":"p","x":225,"d":5.2},{"y":2019,"k":"p","x":252,"d":0},
{"y":2019,"k":"p","x":255,"d":0},{"y":2019,"k":"p","x":285,"d":7},{"y":2019,"k":"p","x":302,"d":14},{"y":2019,"k":"p","x":312,"d":7},{"y":2019,"k":"p","x":330,"d":0}
]},
"facet": {"row": {"field": "y", "type": "ordinal", "title": null,
  "header": {"labelAngle": 0, "labelAlign": "left", "labelPadding": -21, "labelFontSize": 9, "labelFont": "Liberation Sans", "labelBaseline": "middle",
    "labelExpr": "datum.value + '/' + (datum.value + 1)",
    "labelColor": {"expr": "'hsl(' + (135 + (parent.y - 2000) * 2.9) + ',30%,' + (58 - (parent.y - 2000) * 1.7) + '%)'"}}}},
"spacing": 0,
"bounds": "flush",
"spec": {
  "width": 468,
  "height": 14,
  "encoding": {
    "x": {"field": "x", "type": "quantitative", "scale": {"domain": [0, 370], "nice": false, "zero": false},
      "axis": {"title": "SOS, POS and EOS distribution [days since 1 Sep]", "values": [0, 50, 100, 150, 200, 250, 300, 350], "grid": false, "offset": 24, "tickSize": 4, "domainColor": "#3a4068", "tickColor": "#3a4068", "domainWidth": 1.2, "labelFont": "Liberation Sans", "labelFontSize": 8, "labelColor": "#444444", "labelPadding": 2, "titleFont": "Liberation Sans", "titleFontSize": 9, "titleFontWeight": "normal", "titleColor": "#333333", "titlePadding": 3}},
    "y": {"field": "d", "type": "quantitative", "scale": {"domain": [0, 30], "range": [14, -16]}, "axis": null}
  },
  "layer": [
    {"transform": [{"filter": "datum.k == 'g'"}],
     "mark": {"type": "area", "interpolate": "monotone", "stroke": "white", "strokeWidth": 0.7, "fillOpacity": 1},
     "encoding": {"fill": {"field": "y", "type": "quantitative", "legend": null, "scale": {"domain": [2000, 2010, 2019], "range": ["#aadca8", "#5fae86", "#2a7c68"]}}}},
    {"transform": [{"filter": "datum.k == 'p'"}],
     "mark": {"type": "area", "interpolate": "monotone", "stroke": "white", "strokeWidth": 0.7, "fillOpacity": 1},
     "encoding": {"fill": {"field": "y", "type": "quantitative", "legend": null, "scale": {"domain": [2000, 2010, 2019], "range": ["#efcfe9", "#d3afd6", "#b59bcb"]}}}},
    {"transform": [{"filter": "datum.k == 'm'"}],
     "mark": {"type": "area", "interpolate": "monotone", "stroke": "white", "strokeWidth": 0.8, "fillOpacity": 1},
     "encoding": {"fill": {"field": "y", "type": "quantitative", "legend": null, "scale": {"domain": [2000, 2010, 2019], "range": ["#d9c7c8", "#8e84a2", "#4b4977"]}}}}
  ],
  "resolve": {"scale": {"fill": "independent"}}
},
"config": {"view": {"stroke": null}, "font": "Liberation Sans"}
}
